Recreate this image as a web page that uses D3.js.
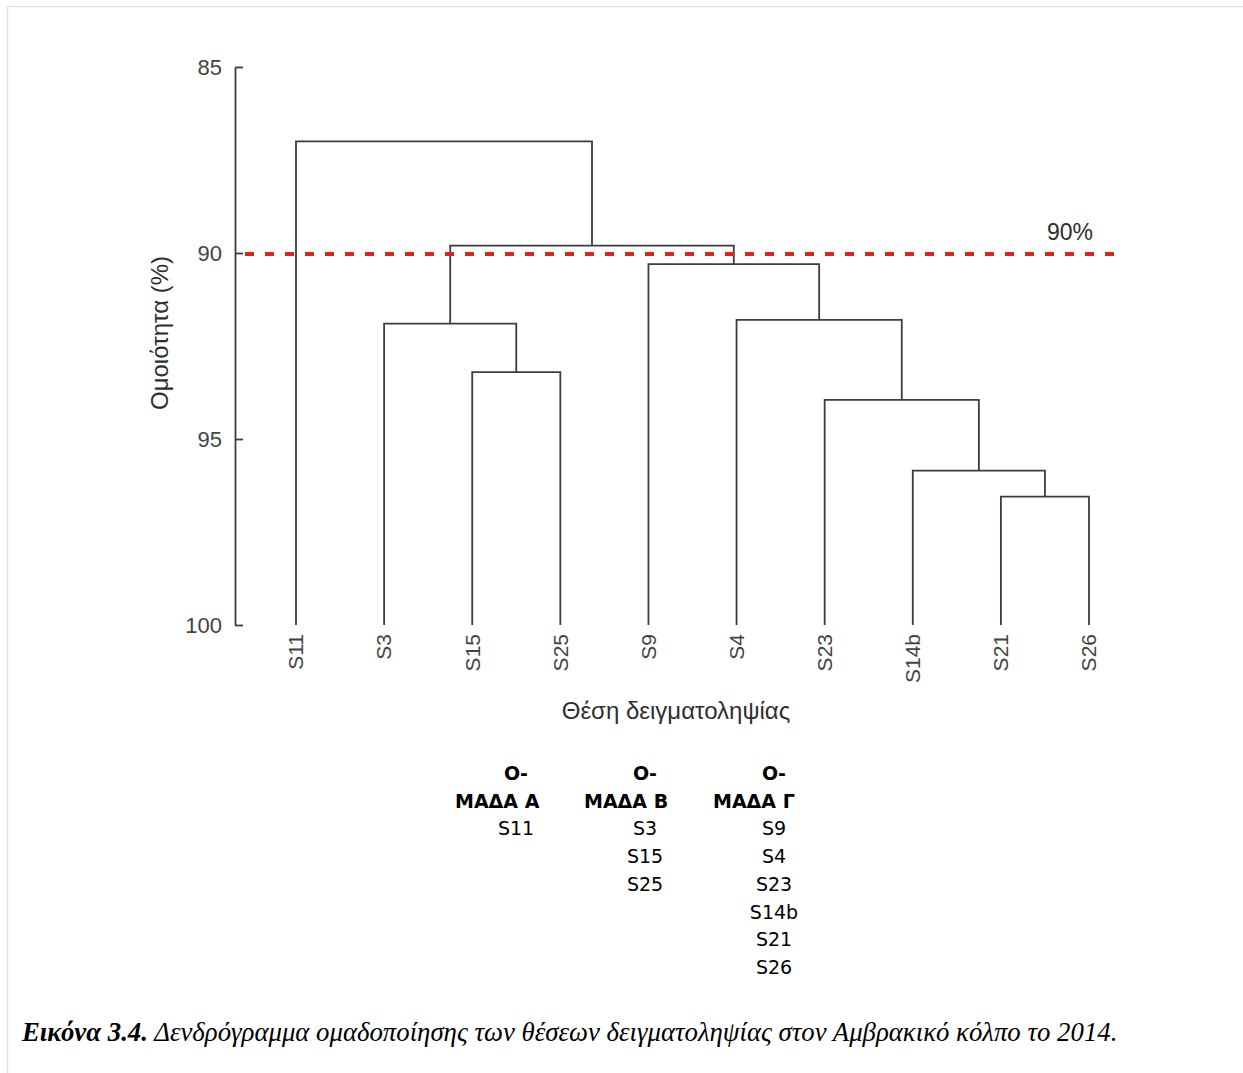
<!DOCTYPE html>
<html>
<head>
<meta charset="utf-8">
<script src="https://cdn.jsdelivr.net/npm/d3@7"></script>
<style>
  body { margin: 0; background: #fff; }
  svg { display: block; }
</style>
</head>
<body>
<svg id="fig" width="1243" height="1073"></svg>
<script>
// Sampling stations in dendrogram leaf order
const leaves = ["S11", "S3", "S15", "S25", "S9", "S4", "S23", "S14b", "S21", "S26"];

// Agglomeration steps: [left member, right member, similarity (%)]
// Internal nodes are referred to as "m<index>" in the order they are created.
const merges = [
  ["S21", "S26", 96.55],
  ["S14b", "m0", 95.85],
  ["S23", "m1", 93.95],
  ["S4", "m2", 91.8],
  ["S9", "m3", 90.3],
  ["S15", "S25", 93.2],
  ["S3", "m5", 91.9],
  ["m6", "m4", 89.8],
  ["S11", "m7", 87.0]
];

const yTicks = [85, 90, 95, 100];
const cutoff = 90;
const cutoffLabel = "90%";

const yTitle = "Ομοιότητα (%)";
const xTitle = "Θέση δειγματοληψίας";

const groupPrefix = "Ο-";
const groupNames = ["ΜΑΔΑ Α", "ΜΑΔΑ Β", "ΜΑΔΑ Γ"];
const groupMembers = [
  ["S11"],
  ["S3", "S15", "S25"],
  ["S9", "S4", "S23", "S14b", "S21", "S26"]
];

const captionLead = "Εικόνα 3.4.";
const captionText = " Δενδρόγραμμα ομαδοποίησης των θέσεων δειγματοληψίας στον Αμβρακικό κόλπο το 2014.";

// ---------------------------------------------------------------------------
const svg = d3.select("#fig");
const sans = "'Liberation Sans', Arial, sans-serif";
const ink = "#3d3d3d";

// light page frame
svg.append("rect")
  .attr("x", 7.5).attr("y", 6.5)
  .attr("width", 1400).attr("height", 1200)
  .attr("fill", "none").attr("stroke", "#e3e3e3").attr("stroke-width", 1.5);

const x = d3.scalePoint().domain(leaves).range([296, 1089]);
const y = d3.scaleLinear().domain([85, 100]).range([67, 625]);

// Node positions: leaves sit at 100 %, merges at their similarity level
const nodes = new Map();
leaves.forEach(l => nodes.set(l, { x: x(l), h: 100 }));
merges.forEach((m, i) => {
  const a = nodes.get(m[0]), b = nodes.get(m[1]);
  nodes.set("m" + i, { x: (a.x + b.x) / 2, h: m[2], a, b });
});

const g = svg.append("g");
g.selectAll("path.link")
  .data(merges.map((m, i) => nodes.get("m" + i)))
  .join("path")
  .attr("class", "link")
  .attr("fill", "none")
  .attr("stroke", ink)
  .attr("stroke-width", 1.8)
  .attr("d", n => `M${n.a.x},${y(n.a.h)}V${y(n.h)}H${n.b.x}V${y(n.b.h)}`);

// y axis
const axisX = 235;
const yAxis = svg.append("g")
  .attr("transform", `translate(${axisX},0)`)
  .call(d3.axisLeft(y).tickValues(yTicks).tickSizeInner(10).tickSizeOuter(0).tickPadding(3));
yAxis.select(".domain").attr("stroke", ink).attr("stroke-width", 1.8);
yAxis.selectAll(".tick line").attr("x2", 8).attr("stroke", ink).attr("stroke-width", 1.8);
yAxis.selectAll(".tick text")
  .attr("font-family", sans).attr("font-size", 22).attr("fill", "#444");

// leaf labels, rotated
svg.selectAll("text.leaf")
  .data(leaves)
  .join("text")
  .attr("class", "leaf")
  .attr("transform", d => `translate(${x(d)},${y(100) + 9}) rotate(-90)`)
  .attr("text-anchor", "end")
  .attr("dy", "0.35em")
  .attr("font-family", sans).attr("font-size", 21).attr("fill", "#444")
  .text(d => d);

// axis titles
svg.append("text")
  .attr("transform", `translate(168,${(y(85) + y(100)) / 2 - 13}) rotate(-90)`)
  .attr("text-anchor", "middle")
  .attr("font-family", sans).attr("font-size", 24).attr("fill", "#2e2e2e")
  .text(yTitle);

svg.append("text")
  .attr("x", 676).attr("y", 719)
  .attr("text-anchor", "middle")
  .attr("font-family", sans).attr("font-size", 24).attr("fill", "#2e2e2e")
  .text(xTitle);

// similarity cut-off
svg.append("line")
  .attr("x1", 245).attr("x2", 1117)
  .attr("y1", y(cutoff) + 1).attr("y2", y(cutoff) + 1)
  .attr("stroke", "#e3221c").attr("stroke-width", 4)
  .attr("stroke-dasharray", "9,11");

svg.append("text")
  .attr("x", 1070).attr("y", 240)
  .attr("text-anchor", "middle")
  .attr("font-family", sans).attr("font-size", 23).attr("fill", "#2e2e2e")
  .text(cutoffLabel);

// group table
const tbl = "'DejaVu Sans', Verdana, sans-serif";
const rowH = 27.7;
const row0 = 780;
groupNames.forEach((name, i) => {
  const cx = 516 + i * 129;
  const t = svg.append("g");
  t.append("text")
    .attr("x", cx).attr("y", row0)
    .attr("text-anchor", "middle")
    .attr("font-family", tbl).attr("font-size", 19).attr("font-weight", "bold")
    .attr("fill", "#000")
    .text(groupPrefix);
  t.append("text")
    .attr("x", cx - 61).attr("y", row0 + rowH)
    .attr("font-family", tbl).attr("font-size", 19).attr("font-weight", "bold")
    .attr("fill", "#000")
    .text(name);
  t.selectAll("text.member")
    .data(groupMembers[i])
    .join("text")
    .attr("class", "member")
    .attr("x", cx)
    .attr("y", (d, j) => row0 + rowH * (2 + j))
    .attr("text-anchor", "middle")
    .attr("font-family", tbl).attr("font-size", 19)
    .attr("fill", "#000")
    .text(d => d);
});

// figure caption, fitted to the text block width
const cap = svg.append("text")
  .attr("x", 22).attr("y", 1041)
  .attr("font-family", "'Liberation Serif', 'DejaVu Serif', serif")
  .attr("font-style", "italic")
  .attr("font-size", 22)
  .attr("fill", "#000");
cap.append("tspan").attr("font-weight", "bold").text(captionLead);
cap.append("tspan").text(captionText);
const w = cap.node().getComputedTextLength();
cap.attr("font-size", 22 * 1096 / w);
</script>
</body>
</html>
